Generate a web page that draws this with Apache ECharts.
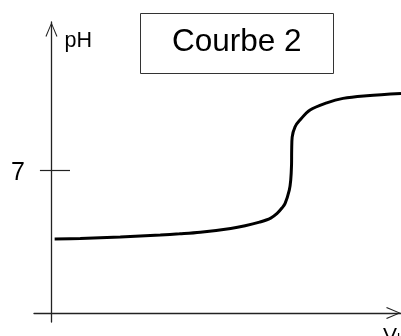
<!DOCTYPE html>
<html>
<head>
<meta charset="utf-8">
<script src="https://cdn.jsdelivr.net/npm/echarts@6/dist/echarts.min.js"></script>
<style>
  html, body { margin: 0; padding: 0; background: #fff; }
  #chart { width: 401px; height: 336px; }
</style>
</head>
<body>
<div id="chart"></div>
<script>
// titration curve (V in mL, pH)
var volumes = [0.2, 1.8, 4.3, 6.8, 8.0, 9.3, 11.2, 12.1, 13.0, 13.7, 14.1, 14.4, 14.6, 14.86, 14.95, 15.0, 15.01, 15.04, 15.22, 15.53, 16.16, 17.2, 18.22, 19.7, 21.84]
var phValues = [3.62, 3.65, 3.72, 3.82, 3.88, 3.96, 4.14, 4.27, 4.45, 4.65, 4.88, 5.14, 5.37, 6.02, 6.51, 7.24, 7.98, 8.61, 9.12, 9.45, 9.94, 10.29, 10.51, 10.64, 10.75]
var yTicks = [7]
var tickSpan = [-0.72, 1.16]

var chart = echarts.init(document.getElementById('chart'))

var font = 'Liberation Sans, Arial, sans-serif'
var axisColor = '#222'
var chevron = 'path://M6,0 L12,14 L11,14.6 L6,2.4 L1,14.6 L0,14 Z'

var curve = volumes.map(function (v, i) {
  return [v, phValues[i]]
})

chart.setOption({
  animation: false,
  title: {
    text: 'Courbe 2',
    left: 140,
    top: 13,
    padding: [13, 32, 16, 32],
    borderColor: '#333',
    borderWidth: 1,
    textStyle: {
      fontFamily: font,
      fontSize: 31.5,
      fontWeight: 'normal',
      color: '#000'
    }
  },
  grid: {
    left: 34,
    right: 0,
    top: 22,
    bottom: 14,
    containLabel: false,
    outerBoundsMode: 'none'
  },
  xAxis: {
    type: 'value',
    min: -1.09,
    max: 21.84,
    name: 'V{s|b}',
    nameLocation: 'end',
    nameGap: -18,
    nameMoveOverlap: false,
    nameTextStyle: {
      fontFamily: font,
      fontSize: 21,
      color: '#000',
      align: 'left',
      verticalAlign: 'top',
      padding: [12, 0, 0, 0],
      rich: {
        s: { fontFamily: font, fontSize: 14, color: '#000', padding: [8, 0, 0, 0] }
      }
    },
    axisLine: {
      onZero: true,
      symbol: ['none', chevron],
      symbolSize: [12, 15],
      symbolOffset: [0, -7.5],
      lineStyle: { color: axisColor, width: 1.3 }
    },
    axisTick: { show: false },
    axisLabel: { show: false },
    splitLine: { show: false }
  },
  yAxis: {
    type: 'value',
    min: -0.44,
    max: 14.25,
    name: 'pH',
    nameLocation: 'end',
    nameGap: 0,
    nameMoveOverlap: false,
    nameTextStyle: {
      fontFamily: font,
      fontSize: 21.5,
      color: '#000',
      align: 'left',
      verticalAlign: 'top',
      padding: [8, 0, 0, 13]
    },
    axisLine: {
      onZero: true,
      symbol: ['none', chevron],
      symbolSize: [12, 15],
      symbolOffset: [0, -7.5],
      lineStyle: { color: axisColor, width: 1.3 }
    },
    axisTick: { show: false },
    axisLabel: {
      customValues: yTicks,
      margin: 9,
      formatter: '{n|{value}}',
      rich: {
        n: { fontFamily: font, fontSize: 25, color: '#000', padding: [6, 0, 0, 0] }
      }
    },
    splitLine: { show: false }
  },
  series: [{
    type: 'line',
    data: curve,
    smooth: 0.35,
    showSymbol: false,
    lineStyle: { color: '#000', width: 3 },
    markLine: {
      silent: true,
      symbol: 'none',
      label: { show: false },
      lineStyle: { color: axisColor, width: 1.2, type: 'solid' },
      data: yTicks.map(function (t) {
        return [{ coord: [tickSpan[0], t] }, { coord: [tickSpan[1], t] }]
      })
    }
  }]
})
</script>
</body>
</html>
